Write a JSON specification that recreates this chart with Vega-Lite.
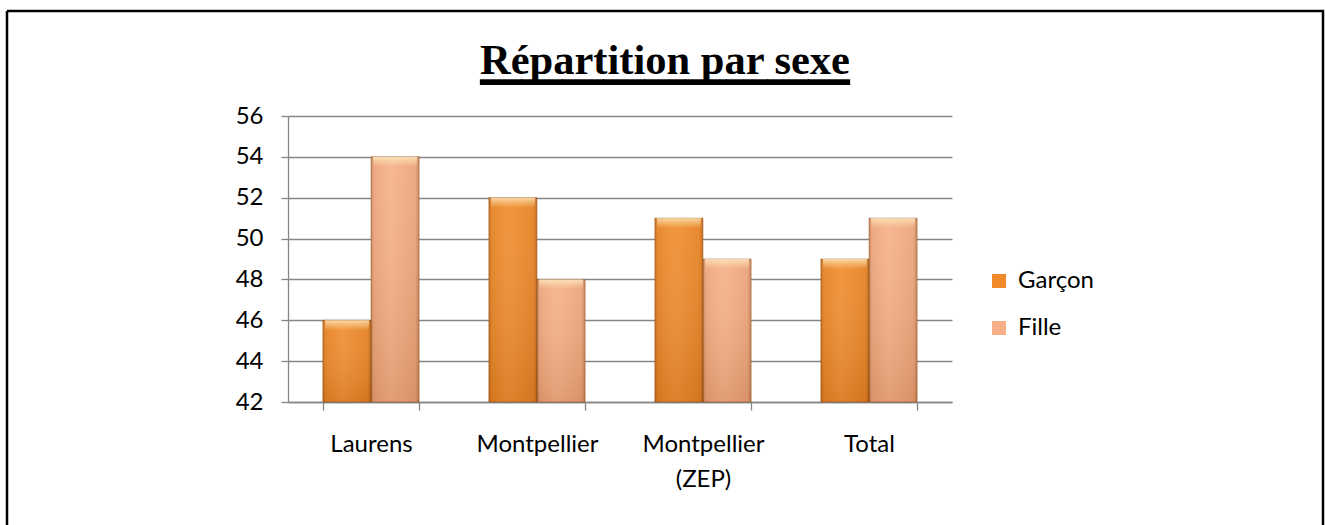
{
  "$schema": "https://vega.github.io/schema/vega-lite/v6.json",
  "width": 1316,
  "height": 514,
  "autosize": {"type": "none"},
  "padding": {"left": 7, "top": 11, "right": 2, "bottom": 0},
  "background": "white",
  "title": {
    "text": "Répartition par sexe",
    "subtitle": "_________",
    "font": "Liberation Serif",
    "fontSize": 42.5,
    "fontWeight": "bold",
    "color": "#000000",
    "subtitleFont": "Liberation Serif",
    "subtitleFontSize": 82,
    "subtitleFontWeight": "bold",
    "subtitleColor": "#000000",
    "subtitlePadding": -44,
    "anchor": "middle",
    "frame": "group",
    "baseline": "alphabetic",
    "offset": -145
  },
  "config": {
    "view": {"stroke": "#000000", "strokeWidth": 2.5, "strokeDash": [1830, 1316, 514, 0]},
    "axis": {"labelFont": "Lato", "labelFontSize": 24, "labelColor": "#000000", "titleFont": "Lato"},
    "legend": {"labelFont": "Lato", "labelFontSize": 24, "labelColor": "#000000"}
  },
  "data": {
    "values": [
      {"site": "Laurens", "sexe": "Garçon", "valeur": 46},
      {"site": "Laurens", "sexe": "Fille", "valeur": 54},
      {"site": "Montpellier", "sexe": "Garçon", "valeur": 52},
      {"site": "Montpellier", "sexe": "Fille", "valeur": 48},
      {"site": "Montpellier (ZEP)", "sexe": "Garçon", "valeur": 51},
      {"site": "Montpellier (ZEP)", "sexe": "Fille", "valeur": 49},
      {"site": "Total", "sexe": "Garçon", "valeur": 49},
      {"site": "Total", "sexe": "Fille", "valeur": 51}
    ]
  },
  "encoding": {
    "x": {
      "field": "site",
      "type": "nominal",
      "sort": null,
      "scale": {"range": [281, 945], "paddingInner": 0.42, "paddingOuter": 0.21},
      "axis": {
        "title": null,
        "offset": -123,
        "tickBand": "extent",
        "tickSize": 8,
        "tickColor": "#868686",
        "tickWidth": 1.3,
        "domainColor": "#868686",
        "domainWidth": 1.3,
        "labelAngle": 0,
        "labelPadding": 22,
        "labelBaseline": "top",
        "labelLineHeight": 35,
        "labelExpr": "split(datum.label, ' ')",
        "grid": false
      }
    },
    "xOffset": {"field": "sexe", "type": "nominal", "sort": ["Garçon", "Fille"], "scale": {"paddingInner": 0, "paddingOuter": 0}},
    "y": {
      "field": "valeur",
      "type": "quantitative",
      "scale": {"domain": [42, 56], "range": [391, 105], "zero": false, "nice": false},
      "axis": {
        "title": null,
        "offset": -281,
        "values": [42, 44, 46, 48, 50, 52, 54, 56],
        "tickSize": 7,
        "tickColor": "#868686",
        "tickWidth": 1.3,
        "domainColor": "#868686",
        "domainWidth": 1.3,
        "grid": true,
        "gridColor": "#868686",
        "gridWidth": 1.3,
        "labelPadding": 18
      }
    },
    "y2": {"datum": 42}
  },
  "layer": [
    {
      "mark": {"type": "bar"},
      "encoding": {
        "color": {
          "field": "sexe",
          "type": "nominal",
          "sort": ["Garçon", "Fille"],
          "scale": {"range": ["#F08A28", "#F6AE86"]},
          "legend": {
            "title": null,
            "orient": "none",
            "legendX": 980,
            "legendY": 258,
            "symbolType": "square",
            "symbolSize": 196,
            "symbolStrokeWidth": 0,
            "symbolOpacity": 1,
            "labelOffset": 7,
            "rowPadding": 23
          }
        }
      }
    },
    {
      "mark": {
        "type": "bar",
        "fill": {"gradient": "linear", "x1": 0, "y1": 0, "x2": 1, "y2": 0, "stops": [
          {"offset": 0, "color": "rgba(110,50,0,0.35)"},
          {"offset": 0.06, "color": "rgba(110,50,0,0.08)"},
          {"offset": 0.4, "color": "rgba(255,255,255,0.06)"},
          {"offset": 0.92, "color": "rgba(110,50,0,0.08)"},
          {"offset": 1, "color": "rgba(110,50,0,0.35)"}]},
        "stroke": "rgba(120,60,10,0.4)",
        "strokeWidth": 1
      }
    },
    {
      "mark": {
        "type": "bar",
        "fill": {"gradient": "linear", "x1": 0, "y1": 0, "x2": 0, "y2": 1, "stops": [
          {"offset": 0, "color": "rgba(255,255,255,0.05)"},
          {"offset": 1, "color": "rgba(120,50,0,0.16)"}]}
      }
    },
    {
      "mark": {
        "type": "tick",
        "orient": "horizontal",
        "thickness": 10,
        "size": 44,
        "yOffset": 5,
        "opacity": 1,
        "fill": {"gradient": "linear", "x1": 0, "y1": 0, "x2": 0, "y2": 1, "stops": [
          {"offset": 0, "color": "rgba(255,240,200,0.75)"},
          {"offset": 1, "color": "rgba(255,230,180,0)"}]}
      }
    }
  ]
}
